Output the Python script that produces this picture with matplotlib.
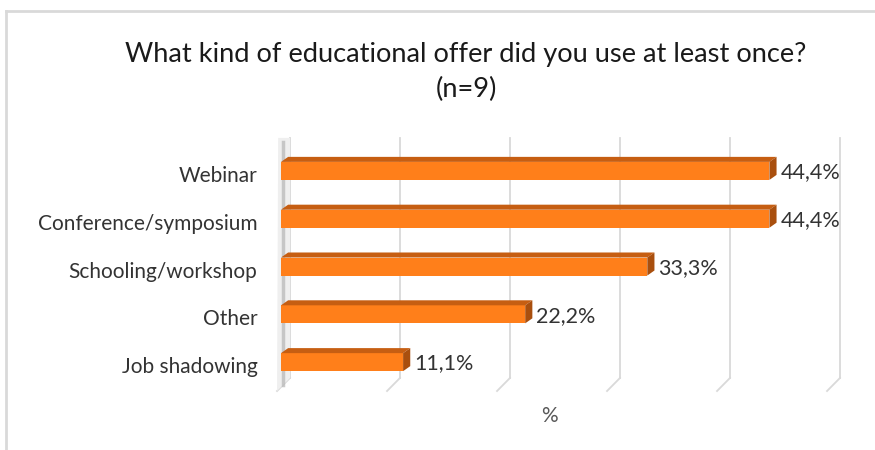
import matplotlib
matplotlib.use("Agg")
import matplotlib.pyplot as plt
from matplotlib.patches import Polygon
from matplotlib.transforms import ScaledTranslation

# chart data
categories = ["Job shadowing", "Other", "Schooling/workshop",
              "Conference/symposium", "Webinar"]
values = [11.1, 22.2, 33.3, 44.4, 44.4]
value_labels = ["11,1%", "22,2%", "33,3%", "44,4%", "44,4%"]
title = "What kind of educational offer did you use at least once?\n(n=9)"
x_label = "%"

plt.rcParams['font.family'] = ['Lato', 'DejaVu Sans']

front_col = '#FF7F1A'
top_col = '#C65E12'
side_col = '#A94F0E'
grid_col = '#d9d9d9'
text_col = '#333333'

fig = plt.figure(figsize=(8.75, 4.5), dpi=100)
# outer chart border (only top and left visible in the shot)
fig.add_artist(plt.Line2D([6/875, 6/875], [0, 1 - 11/450], color='#d9d9d9', lw=2))
fig.add_artist(plt.Line2D([6/875, 1], [1 - 11/450, 1 - 11/450], color='#d9d9d9', lw=2))

ax = fig.add_axes([281/875, 63/450, 550/875, 240/450])
ax.set_xlim(0, 50)
ax.set_ylim(-0.52, 4.5)
for s in ax.spines.values():
    s.set_visible(False)
ax.set_xticks([])

# 3d depth offsets in data units
bx, by = 0.82, 0.19     # back wall
fx, fy = -0.36, -0.084  # floor front edge
dx, dy = 0.65, 0.105    # bar depth
y0, y1 = ax.get_ylim()

# back wall gridlines + floor lines
for g in range(0, 60, 10):
    ax.plot([g + bx, g + bx], [y0 + by, y1 + by], color=grid_col, lw=1.3, clip_on=False, zorder=1)
    ax.plot([g + bx, g + fx], [y0 + by, y0 + fy], color=grid_col, lw=1.3, clip_on=False, zorder=1)

# left wall shading
ax.add_patch(Polygon([(fx, y0 + fy), (bx, y0 + by), (bx, y1 + by), (fx + 0.1, y1 + by)],
                     closed=True, facecolor='#efefef', edgecolor='none', clip_on=False, zorder=1))
ax.plot([0.15, 0.15], [y0 + 0.05, y1 + 0.1], color='#b5b5b5', lw=2.5, alpha=0.7,
        clip_on=False, zorder=1)

ypos = list(range(len(categories)))
hh = 0.1885
ax.barh(ypos, values, height=2 * hh, color=front_col, zorder=3)
for y, v, lab in zip(ypos, values, value_labels):
    ax.add_patch(Polygon([(0, y + hh), (v, y + hh), (v + dx, y + hh + dy), (dx, y + hh + dy)],
                         closed=True, facecolor=top_col, edgecolor='none', zorder=3, clip_on=False))
    ax.add_patch(Polygon([(v, y - hh), (v + dx, y - hh + dy), (v + dx, y + hh + dy), (v, y + hh)],
                         closed=True, facecolor=side_col, edgecolor='none', zorder=3, clip_on=False))
    ax.text(v + dx + 0.35, y - 0.03, lab, ha='left', va='center', fontsize=15.5,
            color=text_col, zorder=4)

ax.set_yticks(ypos)
ax.set_yticklabels(categories, fontsize=15, color=text_col)
ax.tick_params(axis='y', length=0, pad=17)
for t in ax.get_yticklabels():
    t.set_transform(t.get_transform() + ScaledTranslation(0, -3/100, fig.dpi_scale_trans))

ax.set_xlabel(x_label, fontsize=15, color='#595959', labelpad=12)
ax.xaxis.set_label_coords(0.488, -0.08)

fig.text(466/875, 1 - 72/450, title, ha='center', va='center', fontsize=19.6,
         color='#1a1a1a', linespacing=1.5)

fig.savefig("out.png", dpi=100, facecolor='white')
